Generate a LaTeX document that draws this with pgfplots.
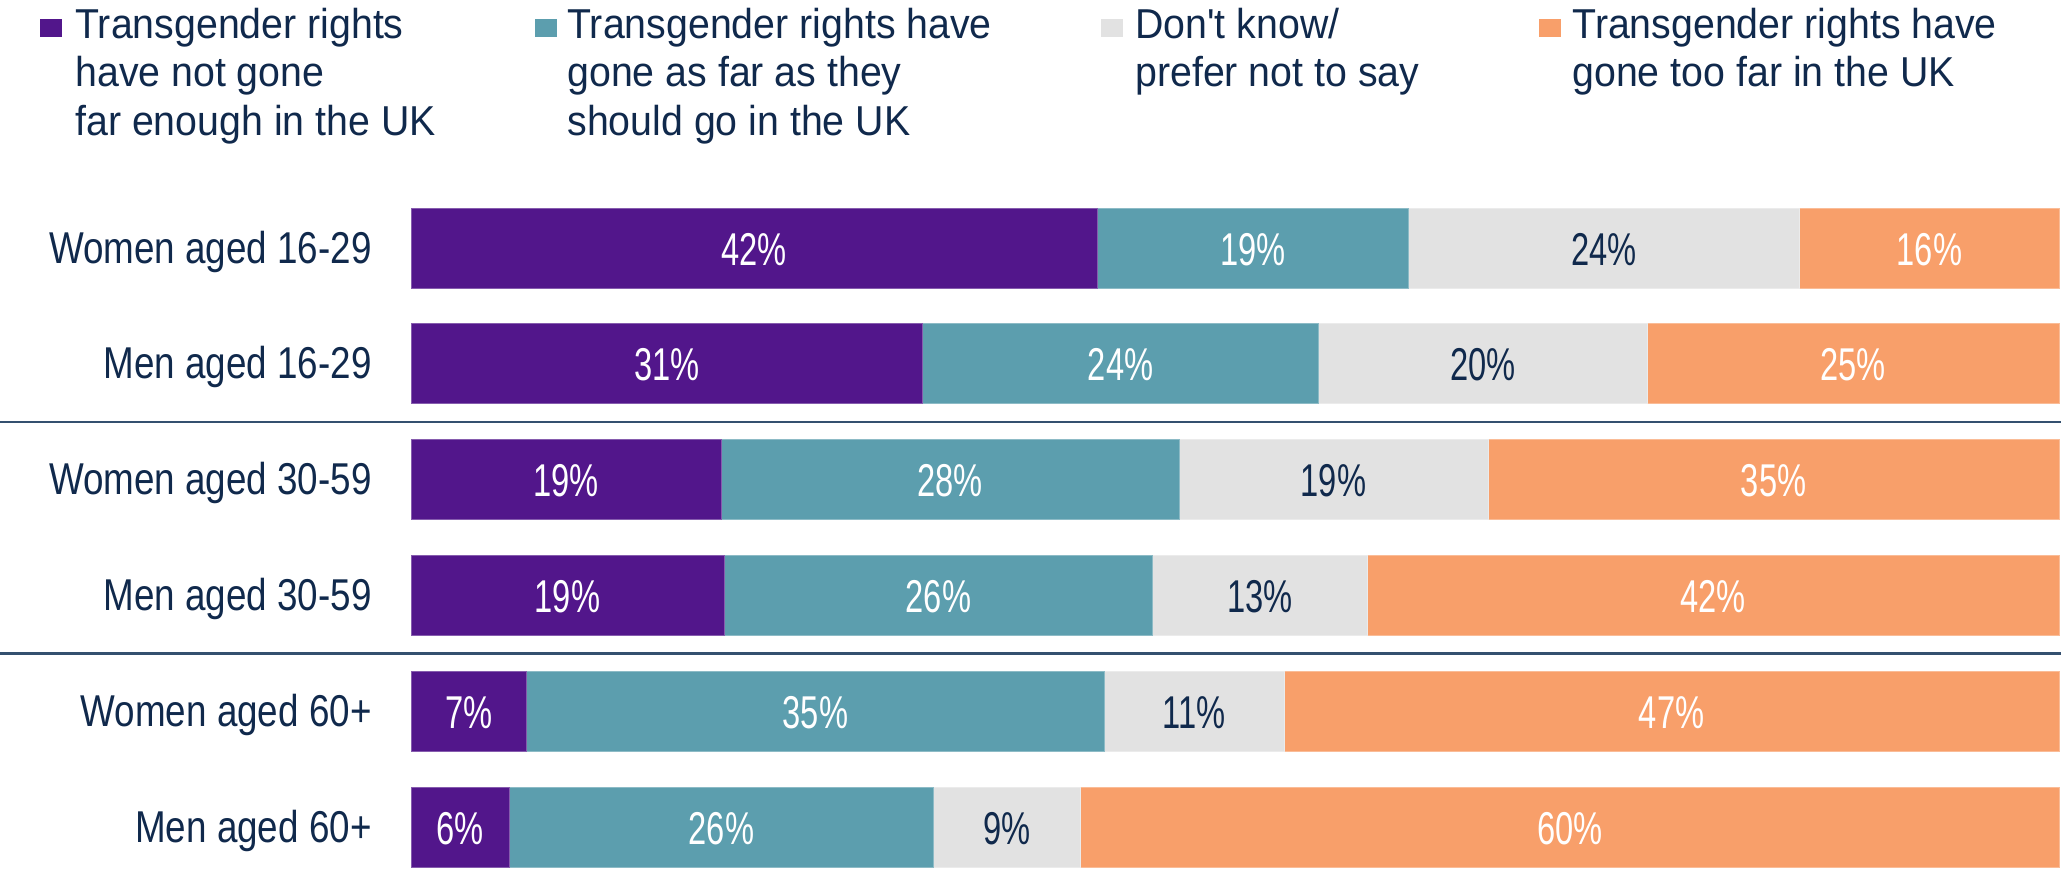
\documentclass[border=0pt]{standalone}
\usepackage{fontspec}
\usepackage{pgfplots}
\pgfplotsset{compat=1.18}
\usepackage{pgfplotstable}
\setmainfont{Liberation Sans}
\newfontfamily\legfont{Liberation Sans}[FakeStretch=0.94]
\newfontfamily\catfont{Liberation Sans}[FakeStretch=0.825]
\newfontfamily\valfont{Liberation Sans}[FakeStretch=0.71]
\definecolor{cpur}{HTML}{52168B}
\definecolor{cteal}{HTML}{5C9EAE}
\definecolor{cgrey}{HTML}{E2E2E2}
\definecolor{corange}{HTML}{F89F6A}
\definecolor{navy}{HTML}{10294C}
\definecolor{sepc}{HTML}{34506F}

\pgfplotstableread{
row v1 v2 v3 v4 l1 l2 l3 l4
0 41.66 18.83 23.78 15.73 42 19 24 16
1 31.05 24.02 19.95 24.98 31 24 20 25
2 18.83 27.77 18.75 34.65 19 28 19 35
3 18.99 26.02 13.01 41.98 19 26 13 42
4 7.02 35.04 10.93 47.01 7 35 11 47
5 5.99 25.70 8.94 59.37 6 26 9 60
}\datatable

\pgfplotsset{
  common/.style={
    scale only axis, width=824pt, height=341pt,
    xmin=0, xmax=100, ymin=-0.5, ymax=5.389,
    y dir=reverse, clip=false,
  },
  lbl/.style={draw=none, mark=none, nodes near coords={\pgfplotspointmeta\%},
    point meta=explicit symbolic,
    every node near coord/.append style={anchor=base, inner sep=0pt, yshift=-8.5pt,
      font=\valfont\fontsize{23pt}{26pt}\selectfont, text=#1}},
}

\begin{document}
\begin{tikzpicture}
\begin{axis}[common,
  xbar stacked, bar width=40pt,
  axis x line=none, axis y line*=left,
  y axis line style={draw=none},
  major tick length=0pt, ytick style={draw=none},
  ytick={0,1,2,3,4,5},
  yticklabels={Women aged 16-29, Men aged 16-29, Women aged 30-59, Men aged 30-59, Women aged 60+, Men aged 60+},
  yticklabel style={font=\catfont\fontsize{22.3pt}{26pt}\selectfont, text=navy,
    anchor=base east, inner sep=0pt, xshift=-19.5pt, yshift=-7.5pt},
]
\addplot[fill=cpur, draw=cpur!70!white, line width=0.4pt] table[x=v1, y=row] {\datatable};
\addplot[fill=cteal, draw=cteal!70!white, line width=0.4pt] table[x=v2, y=row] {\datatable};
\addplot[fill=cgrey, draw=cgrey!70!white, line width=0.4pt] table[x=v3, y=row] {\datatable};
\addplot[fill=corange, draw=corange!70!white, line width=0.4pt] table[x=v4, y=row] {\datatable};
\end{axis}

\begin{axis}[common, hide axis]
\addplot[lbl=white] table[x expr=\thisrow{v1}/2, y=row, meta=l1] {\datatable};
\addplot[lbl=white] table[x expr=\thisrow{v1}+\thisrow{v2}/2, y=row, meta=l2] {\datatable};
\addplot[lbl=navy] table[x expr=\thisrow{v1}+\thisrow{v2}+\thisrow{v3}/2, y=row, meta=l3] {\datatable};
\addplot[lbl=white] table[x expr=\thisrow{v1}+\thisrow{v2}+\thisrow{v3}+\thisrow{v4}/2, y=row, meta=l4] {\datatable};

\addplot[sepc, line width=1.2pt, mark=none] coordinates {(-24.94,1.5) (100.12,1.5)};
\addplot[sepc, line width=1.2pt, mark=none] coordinates {(-24.94,3.5) (100.12,3.5)};

\coordinate (TL) at (axis cs:-24.94,-2.1416);
\coordinate (BR) at (axis cs:100.12,5.389);

% legend
\tikzset{legtxt/.style={anchor=base west, inner sep=0pt, text=navy, font=\legfont\fontsize{20.9pt}{24pt}\selectfont},
         legkey/.style={anchor=base west, inner sep=0pt}}
\node[legkey] at (axis cs:-22.51,-1.8048) {\textcolor{cpur}{\rule[1pt]{11pt}{9pt}}};
\node[legtxt] at (axis cs:-20.39,-1.8048) {Transgender rights};
\node[legtxt] at (axis cs:-20.39,-1.3903) {have not gone};
\node[legtxt] at (axis cs:-20.39,-0.9758) {far enough in the UK};

\node[legkey] at (axis cs:7.524,-1.8048) {\textcolor{cteal}{\rule[1pt]{11pt}{9pt}}};
\node[legtxt] at (axis cs:9.466,-1.8048) {Transgender rights have};
\node[legtxt] at (axis cs:9.466,-1.3903) {gone as far as they};
\node[legtxt] at (axis cs:9.466,-0.9758) {should go in the UK};

\node[legkey] at (axis cs:41.87,-1.8048) {\textcolor{cgrey}{\rule[1pt]{11pt}{9pt}}};
\node[legtxt] at (axis cs:43.93,-1.8048) {Don't know/};
\node[legtxt] at (axis cs:43.93,-1.3903) {prefer not to say};

\node[legkey] at (axis cs:68.45,-1.8048) {\textcolor{corange}{\rule[1pt]{11pt}{9pt}}};
\node[legtxt] at (axis cs:70.45,-1.8048) {Transgender rights have};
\node[legtxt] at (axis cs:70.45,-1.3903) {gone too far in the UK};
\end{axis}
\pgfresetboundingbox
\path[use as bounding box] (TL) rectangle (BR);
\end{tikzpicture}
\end{document}
